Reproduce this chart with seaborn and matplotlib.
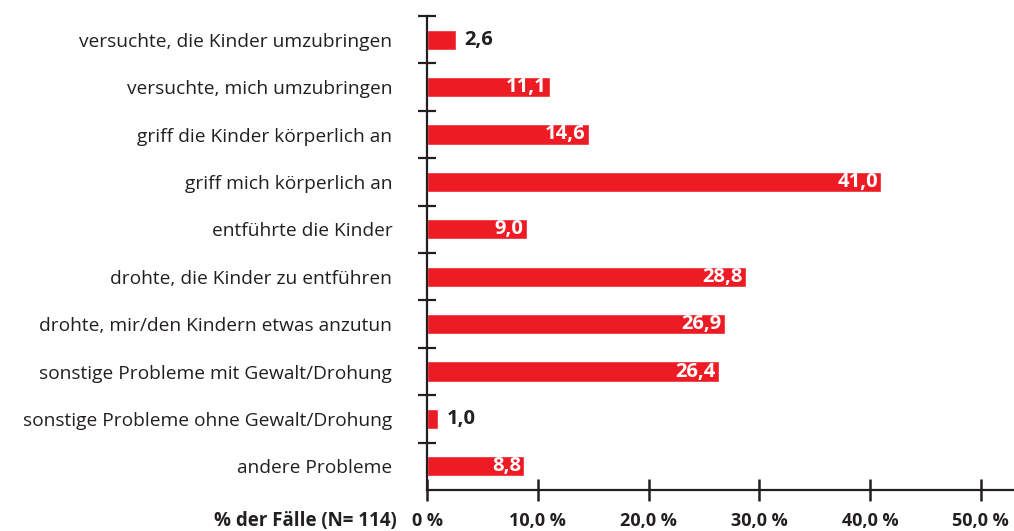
import matplotlib
matplotlib.use("Agg")
import matplotlib.pyplot as plt
import seaborn as sns
import pandas as pd
import numpy as np

categories = [
    "versuchte, die Kinder umzubringen",
    "versuchte, mich umzubringen",
    "griff die Kinder körperlich an",
    "griff mich körperlich an",
    "entführte die Kinder",
    "drohte, die Kinder zu entführen",
    "drohte, mir/den Kindern etwas anzutun",
    "sonstige Probleme mit Gewalt/Drohung",
    "sonstige Probleme ohne Gewalt/Drohung",
    "andere Probleme",
]
values = [2.6, 11.1, 14.6, 41.0, 9.0, 28.8, 26.9, 26.4, 1.0, 8.8]
x_ticks = [0, 10, 20, 30, 40, 50]
x_tick_labels = ["0 %", "10,0 %", "20,0 %", "30,0 %", "40,0 %", "50,0 %"]
axis_title = "% der Fälle (N= 114)"

RED = "#ED1C24"
DARK = "#231F20"

sns.set_theme(style="white")
plt.rcParams["font.family"] = ["Open Sans", "DejaVu Sans"]

df = pd.DataFrame({"Kategorie": categories, "Wert": values})

fig = plt.figure(figsize=(10.14, 5.31), dpi=100)
ax = fig.add_axes([427 / 1014, 41 / 531, 1 - 427 / 1014, 474 / 531])

sns.barplot(data=df, x="Wert", y="Kategorie", orient="h", color=RED,
            saturation=1, width=0.43, ax=ax)

ax.set_xlim(0, 53)
ax.set_ylim(len(categories) - 0.5, -0.5)

for s in ["top", "right"]:
    ax.spines[s].set_visible(False)
for s in ["left", "bottom"]:
    ax.spines[s].set_color(DARK)
    ax.spines[s].set_linewidth(1.6)

# category labels without ticks; separators as minor ticks crossing the axis
ax.set_yticks(range(len(categories)))
ax.set_yticklabels(categories, fontsize=13.8, color=DARK)
ax.tick_params(axis="y", which="major", left=True, length=0, pad=25)
ax.set_yticks(np.arange(-0.5, len(categories) - 0.5, 1.0), minor=True)
ax.tick_params(axis="y", which="minor", left=True, length=13, width=1.6,
               direction="inout", color=DARK)

ax.set_xticks(x_ticks)
ax.set_xticklabels(x_tick_labels, fontsize=13, fontweight="bold", color=DARK)
ax.tick_params(axis="x", which="major", bottom=True, length=16, width=1.8,
               direction="inout", color=DARK, pad=8)

ax.set_xlabel("")
ax.set_ylabel("")

# value labels: inside the bar for long bars, beside it for short ones
for i, v in enumerate(values):
    txt = f"{v:.1f}".replace(".", ",")
    if v >= 5:
        ax.text(v - 0.3, i, txt, ha="right", va="center", color="white",
                fontsize=14.5, fontweight="bold")
    else:
        ax.text(v + 0.8, i, txt, ha="left", va="center", color=DARK,
                fontsize=14.5, fontweight="bold")

fig.text(397 / 1014, 1 - 521 / 531, axis_title, ha="right", va="center",
         fontsize=13.5, fontweight="bold", color=DARK)

fig.savefig("out.png", dpi=100)
